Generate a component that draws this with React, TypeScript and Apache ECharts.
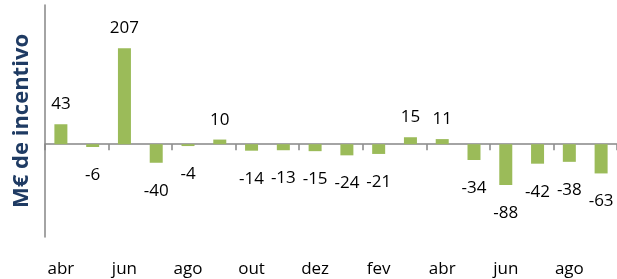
import React, { useEffect, useRef } from "react";
import * as echarts from "echarts";

const categories = ["abr", "mai", "jun", "jul", "ago", "set", "out", "nov", "dez", "jan", "fev", "mar", "abr", "mai", "jun", "jul", "ago", "set"];
const values = [43, -6, 207, -40, -4, 10, -14, -13, -15, -24, -21, 15, 11, -34, -88, -42, -38, -63];
const yTitle = "M€ de incentivo";

export default function App() {
  const ref = useRef<HTMLDivElement>(null);
  useEffect(() => {
    if (!ref.current) return;
    const chart = echarts.init(ref.current, null, { renderer: "svg" });
    const font = "'Open Sans', sans-serif";
    chart.setOption({
      animation: false,
      grid: { left: 42, right: -1, top: 5, bottom: 42, containLabel: false },
      xAxis: [
        {
          type: "category",
          data: categories,
          position: "bottom",
          axisLine: { onZero: true, lineStyle: { color: "#868686", width: 1.5 } },
          axisTick: { show: true, interval: 1, alignWithLabel: false, length: 6, lineStyle: { color: "#868686", width: 1.5 } },
          axisLabel: { show: false },
          splitLine: { show: false },
        },
        {
          type: "category",
          data: categories,
          position: "bottom",
          axisLine: { show: false, onZero: false },
          axisTick: { show: false },
          axisLabel: { show: true, interval: 1, margin: 22, color: "#000", fontSize: 17, fontFamily: font },
          splitLine: { show: false },
        },
      ],
      yAxis: {
        type: "value",
        min: -200,
        max: 300,
        name: yTitle,
        nameLocation: "middle",
        nameRotate: 90,
        nameGap: 15,
        nameTextStyle: { color: "#1F3B63", fontSize: 22, fontWeight: "bold", fontFamily: font },
        axisLine: { show: true, lineStyle: { color: "#868686", width: 1.5 } },
        axisTick: { show: false },
        axisLabel: { show: false },
        splitLine: { show: false },
      },
      series: [
        {
          type: "bar",
          xAxisIndex: 0,
          barWidth: 13,
          itemStyle: { color: "#9BBB59" },
          data: values.map((v) => ({
            value: v,
            label: {
              show: true,
              position: v >= 0 ? "top" : "bottom",
              distance: v >= 0 ? 13 : 18,
              color: "#000",
              fontSize: 17,
              fontFamily: font,
            },
          })),
        },
      ],
    });
    return () => chart.dispose();
  }, []);
  return <div ref={ref} style={{ position: "fixed", left: 0, top: 0, width: 617, height: 279 }} />;
}
